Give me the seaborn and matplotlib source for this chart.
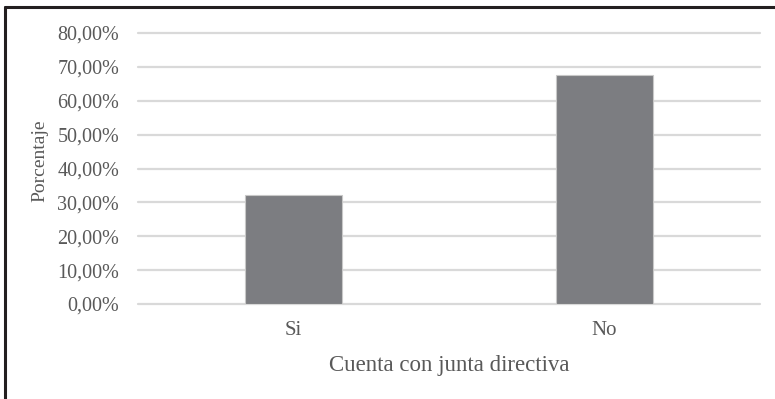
import matplotlib
matplotlib.use("Agg")
import matplotlib.pyplot as plt
from matplotlib.lines import Line2D
from matplotlib.ticker import FuncFormatter, MultipleLocator
import seaborn as sns
import pandas as pd

# Survey result: does the organisation have a board of directors?
categorias = ["Si", "No"]
porcentajes = [32.26, 67.74]
titulo_x = "Cuenta con junta directiva"
titulo_y = "Porcentaje"

sns.set_theme(style="white")
plt.rcParams["font.family"] = ["Liberation Serif", "DejaVu Serif"]

texto = "#595959"
rejilla = "#d9d9d9"
barra = "#7c7d81"

W, H, DPI = 775, 399, 100
fig = plt.figure(figsize=(W / DPI, H / DPI), dpi=DPI)
ax = fig.add_axes([138 / W, 1 - 304 / H, (760 - 138) / W, (304 - 33) / H])

df = pd.DataFrame({"cat": categorias, "pct": porcentajes})
sns.barplot(data=df, x="cat", y="pct", order=categorias, color=barra,
            width=0.31, edgecolor="#c8c8c8", linewidth=0.8, ax=ax,
            saturation=1)

ax.set_xlim(-0.5, 1.5)
ax.set_ylim(0, 80)
ax.yaxis.set_major_locator(MultipleLocator(10))
ax.yaxis.set_major_formatter(
    FuncFormatter(lambda v, _: f"{v:.2f}%".replace(".", ",")))

ax.set_axisbelow(True)
ax.grid(axis="y", color=rejilla, linewidth=1.6)
ax.grid(axis="x", visible=False)
for gl in ax.get_ygridlines():
    gl.set_clip_on(False)
for s in ax.spines.values():
    s.set_visible(False)

ax.tick_params(axis="y", length=0, pad=13.5, labelsize=14.5, labelcolor=texto)
ax.tick_params(axis="x", length=0, pad=12.5, labelsize=15, labelcolor=texto)

ax.set_xlabel(titulo_x, fontsize=16.5, color=texto)
ax.set_ylabel(titulo_y, fontsize=14, color=texto)
ax.xaxis.set_label_coords(0.5, (304 - 355) / (304 - 33))
ax.yaxis.set_label_coords((48 - 138) / (760 - 138), 0.5 + (168 - 160) / (304 - 33))

# Frame lines along the top and left edges of the figure
marco = "#231f20"
fig.add_artist(Line2D([5 / W, 1.0], [1 - 7 / H, 1 - 7 / H],
                      transform=fig.transFigure, color=marco, linewidth=2.2))
fig.add_artist(Line2D([5 / W, 5 / W], [0.0, 1 - 7 / H],
                      transform=fig.transFigure, color=marco, linewidth=2.2))

fig.savefig("out.png", dpi=DPI, facecolor="white")
